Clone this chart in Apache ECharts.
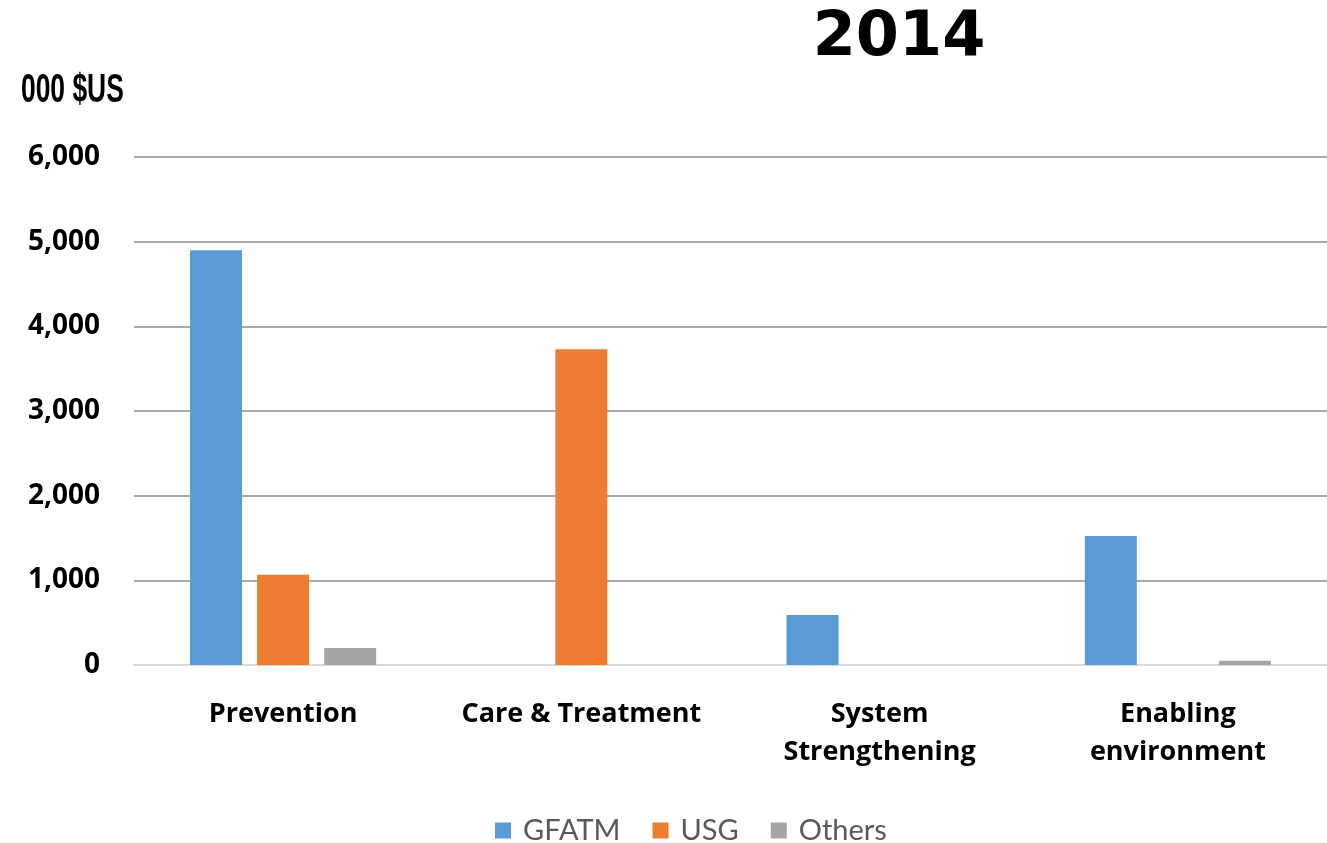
<!DOCTYPE html>
<html>
<head>
<meta charset="utf-8">
<script src="https://cdn.jsdelivr.net/npm/echarts@6/dist/echarts.min.js"></script>
<style>
  html, body { margin: 0; padding: 0; background: #fff; }
  #chart { width: 1327px; height: 843px; }
</style>
</head>
<body>
<div id="chart"></div>
<script>
// Funding by programme area, 2014 (thousand US dollars)
const categories = ['Prevention', 'Care & Treatment', 'System\nStrengthening', 'Enabling\nenvironment'];
const gfatm  = [4900, 0, 590, 1525];
const usg    = [1065, 3730, 0, 0];
const others = [200, 0, 0, 50];
const yTicks = [0, 1000, 2000, 3000, 4000, 5000, 6000];

const chart = echarts.init(document.getElementById('chart'), null, { renderer: 'canvas' });

function barSeries(name, data, color) {
  return {
    name: name,
    type: 'bar',
    data: data.map(v => (v === 0 ? null : v)),
    barWidth: 52,
    barGap: '29%',
    itemStyle: { color: color },
    emphasis: { disabled: true }
  };
}

chart.setOption({
  animation: false,
  title: {
    text: '2014',
    left: 894,
    top: 3,
    textAlign: 'center',
    textStyle: { fontFamily: 'DejaVu Sans', fontWeight: 'bold', fontSize: 62, color: '#000' }
  },
  graphic: [{
    type: 'text',
    left: 21,
    top: 71,
    scaleX: 0.66,
    style: {
      text: '000 $US',
      font: 'bold 40px "Liberation Sans", sans-serif',
      fill: '#000'
    }
  }],
  legend: {
    top: 811,
    left: 490,
    itemWidth: 16,
    itemHeight: 16,
    itemGap: 32,
    icon: 'rect',
    textStyle: { fontFamily: 'Lato', fontSize: 29, color: '#595959', padding: [0, 0, 0, 7] },
    data: ['GFATM', 'USG', 'Others']
  },
  grid: { left: 134, top: 157, width: 1196, height: 508, containLabel: false },
  xAxis: {
    type: 'category',
    data: categories,
    axisTick: { show: false },
    axisLine: { lineStyle: { color: '#d9d9d9', width: 2 } },
    axisLabel: {
      margin: 30,
      interval: 0,
      fontFamily: 'Open Sans',
      fontWeight: 'bold',
      fontSize: 27,
      lineHeight: 38,
      color: '#000'
    }
  },
  yAxis: {
    type: 'value',
    min: yTicks[0],
    max: yTicks[yTicks.length - 1],
    interval: 1000,
    axisLine: { show: false },
    axisTick: { show: false },
    splitLine: { lineStyle: { color: '#8c8c8c', width: 1.5 } },
    axisLabel: {
      margin: 34,
      fontFamily: 'Open Sans',
      fontWeight: 'bold',
      fontSize: 28,
      color: '#000',
      formatter: v => v.toLocaleString('en-US')
    }
  },
  series: [
    barSeries('GFATM', gfatm, '#5B9BD5'),
    barSeries('USG', usg, '#ED7D31'),
    barSeries('Others', others, '#A5A5A5')
  ]
});
</script>
</body>
</html>
